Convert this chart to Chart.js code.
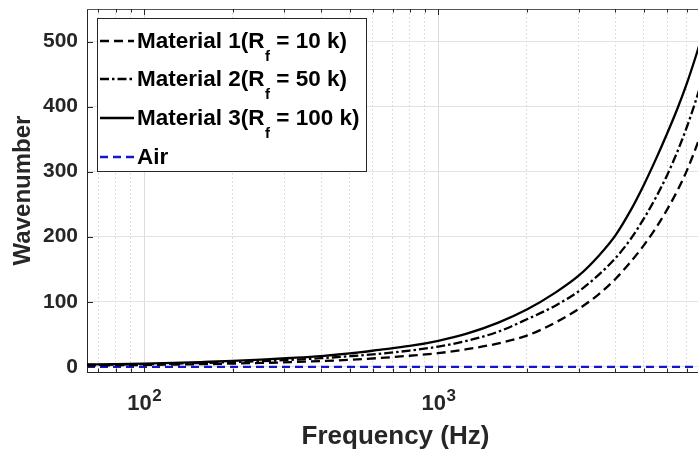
<!DOCTYPE html>
<html><head><meta charset="utf-8">
<script src="https://cdn.jsdelivr.net/npm/chart.js@4.4.1/dist/chart.umd.min.js"></script>
<style>
html,body{margin:0;padding:0;background:#fff;overflow:hidden;width:698px;height:457px;}
#wrap{position:relative;width:706px;height:457px;}
canvas{display:block;}
</style></head><body>
<div id="wrap"><canvas id="c" width="706" height="457"></canvas></div>
<script>
// ---- data ----
const frequency = [64, 80, 100, 125, 160, 200, 250, 315, 400, 500, 630, 800, 1000, 1250, 1600, 2000, 2500, 3000, 3500, 4000, 4500, 5000, 5500, 6000, 6500, 7000, 7500, 8000];
const material1 = [2, 2.4, 2.9, 3.4, 4.1, 4.9, 5.9, 7.1, 8.8, 10.8, 13.5, 17, 21, 27, 36, 48, 68, 89, 111, 135, 161, 187, 214, 242, 271, 302, 336, 371];
const material2 = [2.8, 3.3, 4, 4.8, 6, 7.2, 8.7, 10.7, 13.2, 16.3, 20, 25, 31, 40, 54, 73, 94, 116, 141, 167, 196, 228, 261, 295, 331, 369, 409, 450];
const material3 = [3.5, 4.2, 5, 6, 7.5, 9, 11, 13.5, 16.5, 20.5, 26, 32, 40, 51, 68, 88, 114, 140, 170, 202, 240, 280, 320, 359, 397, 436, 477, 518];
const air = [0, 0, 0, 0, 0, 0, 0, 0, 0, 0, 0, 0, 0, 0, 0, 0, 0, 0, 0, 0, 0, 0, 0, 0, 0, 0, 0, 0];
const yTicks = [0, 100, 200, 300, 400, 500];
const xLabelTicks = [100, 1000];
const legendPrefix = ['Material 1(R', 'Material 2(R', 'Material 3(R', 'Air'];
const legendSub = ['f', 'f', 'f', ''];
const legendSuffix = [' = 10 k)', ' = 50 k)', ' = 100 k)', ''];

const FONT = "'Liberation Sans', Arial, Helvetica, sans-serif";
const AX = '#262626';
const pts = arr => frequency.map((f, i) => ({x: f, y: arr[i]}));
const isDecade = v => Math.abs(Math.log10(v) - Math.round(Math.log10(v))) < 1e-9;

const styles = [
  {color: '#000000', dash: [9, 5], width: 2.3},
  {color: '#000000', dash: [9, 3, 2.5, 3], width: 2.3},
  {color: '#000000', dash: [], width: 2.3},
  {color: '#1515d0', dash: [8, 5], width: 2.3}
];
const seriesData = [material1, material2, material3, air];

const datasets = seriesData.map((arr, i) => ({
  label: legendPrefix[i] + legendSub[i] + legendSuffix[i],
  data: pts(arr),
  borderColor: styles[i].color,
  borderDash: styles[i].dash,
  borderWidth: styles[i].width,
  pointRadius: 0,
  fill: false,
  cubicInterpolationMode: 'monotone'
}));

const decorPlugin = {
  id: 'decor',
  afterDraw(chart) {
    const ctx = chart.ctx;
    const a = chart.chartArea;
    const xs = chart.scales.x, ys = chart.scales.y;
    ctx.save();
    // top box line
    ctx.strokeStyle = '#555555'; ctx.lineWidth = 1;
    ctx.beginPath(); ctx.moveTo(a.left, Math.round(a.top) + 0.5); ctx.lineTo(a.right, Math.round(a.top) + 0.5); ctx.stroke();
    // inward tick marks
    ctx.strokeStyle = AX;
    xs.ticks.forEach(t => {
      const px = Math.round(xs.getPixelForValue(t.value)) + 0.5;
      const len = isDecade(t.value) ? 6 : 3.5;
      ctx.beginPath();
      ctx.moveTo(px, a.bottom); ctx.lineTo(px, a.bottom - len);
      ctx.moveTo(px, a.top); ctx.lineTo(px, a.top + len);
      ctx.stroke();
    });
    ys.ticks.forEach(t => {
      const py = Math.round(ys.getPixelForValue(t.value)) + 0.5;
      ctx.beginPath(); ctx.moveTo(a.left, py); ctx.lineTo(a.left + 6, py); ctx.stroke();
    });
    // exponents of x tick labels
    ctx.fillStyle = AX;
    ctx.textBaseline = 'alphabetic';
    ctx.textAlign = 'left';
    xLabelTicks.forEach(v => {
      const px = xs.getPixelForValue(v);
      ctx.font = 'bold 22px ' + FONT;
      const w = ctx.measureText('10').width;
      const left = px - 4.5 + w / 2 + 0.5;
      ctx.font = 'bold 17px ' + FONT;
      ctx.fillText(String(Math.round(Math.log10(v))), left, 400.5);
    });
    // legend
    const bx = 97, by = 18, bw = 269, bh = 153;
    ctx.fillStyle = '#ffffff';
    ctx.fillRect(bx, by, bw, bh);
    ctx.strokeStyle = AX; ctx.lineWidth = 1;
    ctx.strokeRect(bx + 0.5, by + 0.5, bw, bh);
    const baselines = [48, 86, 125, 164];
    chart.data.datasets.forEach((ds, i) => {
      const yb = baselines[i];
      const yl = yb - 7;
      ctx.save();
      ctx.strokeStyle = ds.borderColor;
      ctx.lineWidth = ds.borderWidth;
      ctx.setLineDash(ds.borderDash);
      ctx.beginPath(); ctx.moveTo(100, yl); ctx.lineTo(134, yl); ctx.stroke();
      ctx.restore();
      ctx.fillStyle = '#000000';
      ctx.textAlign = 'left';
      ctx.textBaseline = 'alphabetic';
      ctx.font = 'bold 22.5px ' + FONT;
      let x = 137;
      ctx.fillText(legendPrefix[i], x, yb);
      x += ctx.measureText(legendPrefix[i]).width;
      if (legendSub[i]) {
        ctx.font = 'bold 15px ' + FONT;
        ctx.fillText(legendSub[i], x + 0.5, yb + 13);
        x += ctx.measureText(legendSub[i]).width + 0.5;
      }
      if (legendSuffix[i]) {
        ctx.font = 'bold 22.5px ' + FONT;
        ctx.fillText(legendSuffix[i], x, yb);
      }
    });
    ctx.restore();
  }
};

new Chart(document.getElementById('c'), {
  type: 'line',
  data: {datasets},
  options: {
    responsive: false,
    animation: false,
    devicePixelRatio: 1,
    layout: {autoPadding: false, padding: {left: 0, right: 2, top: 9, bottom: 0}},
    plugins: {legend: {display: false}, tooltip: {enabled: false}},
    scales: {
      x: {
        type: 'logarithmic',
        min: 64, max: 8000,
        afterBuildTicks: s => {
          s.ticks = s.ticks.filter(t => {
            const e = Math.pow(10, Math.floor(Math.log10(t.value) + 1e-9));
            const m = t.value / e;
            return Math.abs(m - Math.round(m)) < 1e-6 && t.value > 64;
          });
        },
        afterFit: s => { s.height = 85; s.paddingLeft = 0; s.paddingRight = 0; },
        ticks: {
          autoSkip: false, maxRotation: 0, minRotation: 0, padding: 19, labelOffset: -4.5,
          color: AX, font: {family: FONT, size: 22, weight: 'bold'},
          callback: v => xLabelTicks.includes(v) ? '10' : ''
        },
        grid: {
          drawTicks: false,
          color: c => c.tick ? (isDecade(c.tick.value) ? '#dcdcdc' : '#d2d2d2') : 'transparent',
          lineWidth: 1
        },
        border: {
          display: true, color: AX, width: 1,
          dash: c => (c.tick && !isDecade(c.tick.value)) ? [1.5, 2.5] : []
        },
        title: {display: true, text: 'Frequency (Hz)', color: AX, font: {family: FONT, size: 26, weight: 'bold'}, padding: {top: 0, bottom: 5}}
      },
      y: {
        type: 'linear',
        min: -8, max: 550,
        afterBuildTicks: s => { s.ticks = yTicks.map(v => ({value: v})); },
        afterFit: s => { s.width = 87; s.paddingTop = 0; s.paddingBottom = 0; },
        ticks: {
          includeBounds: false, stepSize: 100, padding: 9,
          color: AX, font: {family: FONT, size: 21, weight: 'bold'}
        },
        grid: {drawTicks: false, color: '#e2e2e2', lineWidth: 1},
        border: {display: true, color: AX, width: 1},
        title: {display: true, text: 'Wavenumber', color: AX, font: {family: FONT, size: 24, weight: 'bold'}, padding: {top: 9, bottom: 0}}
      }
    }
  },
  plugins: [decorPlugin]
});
</script>
</body></html>
